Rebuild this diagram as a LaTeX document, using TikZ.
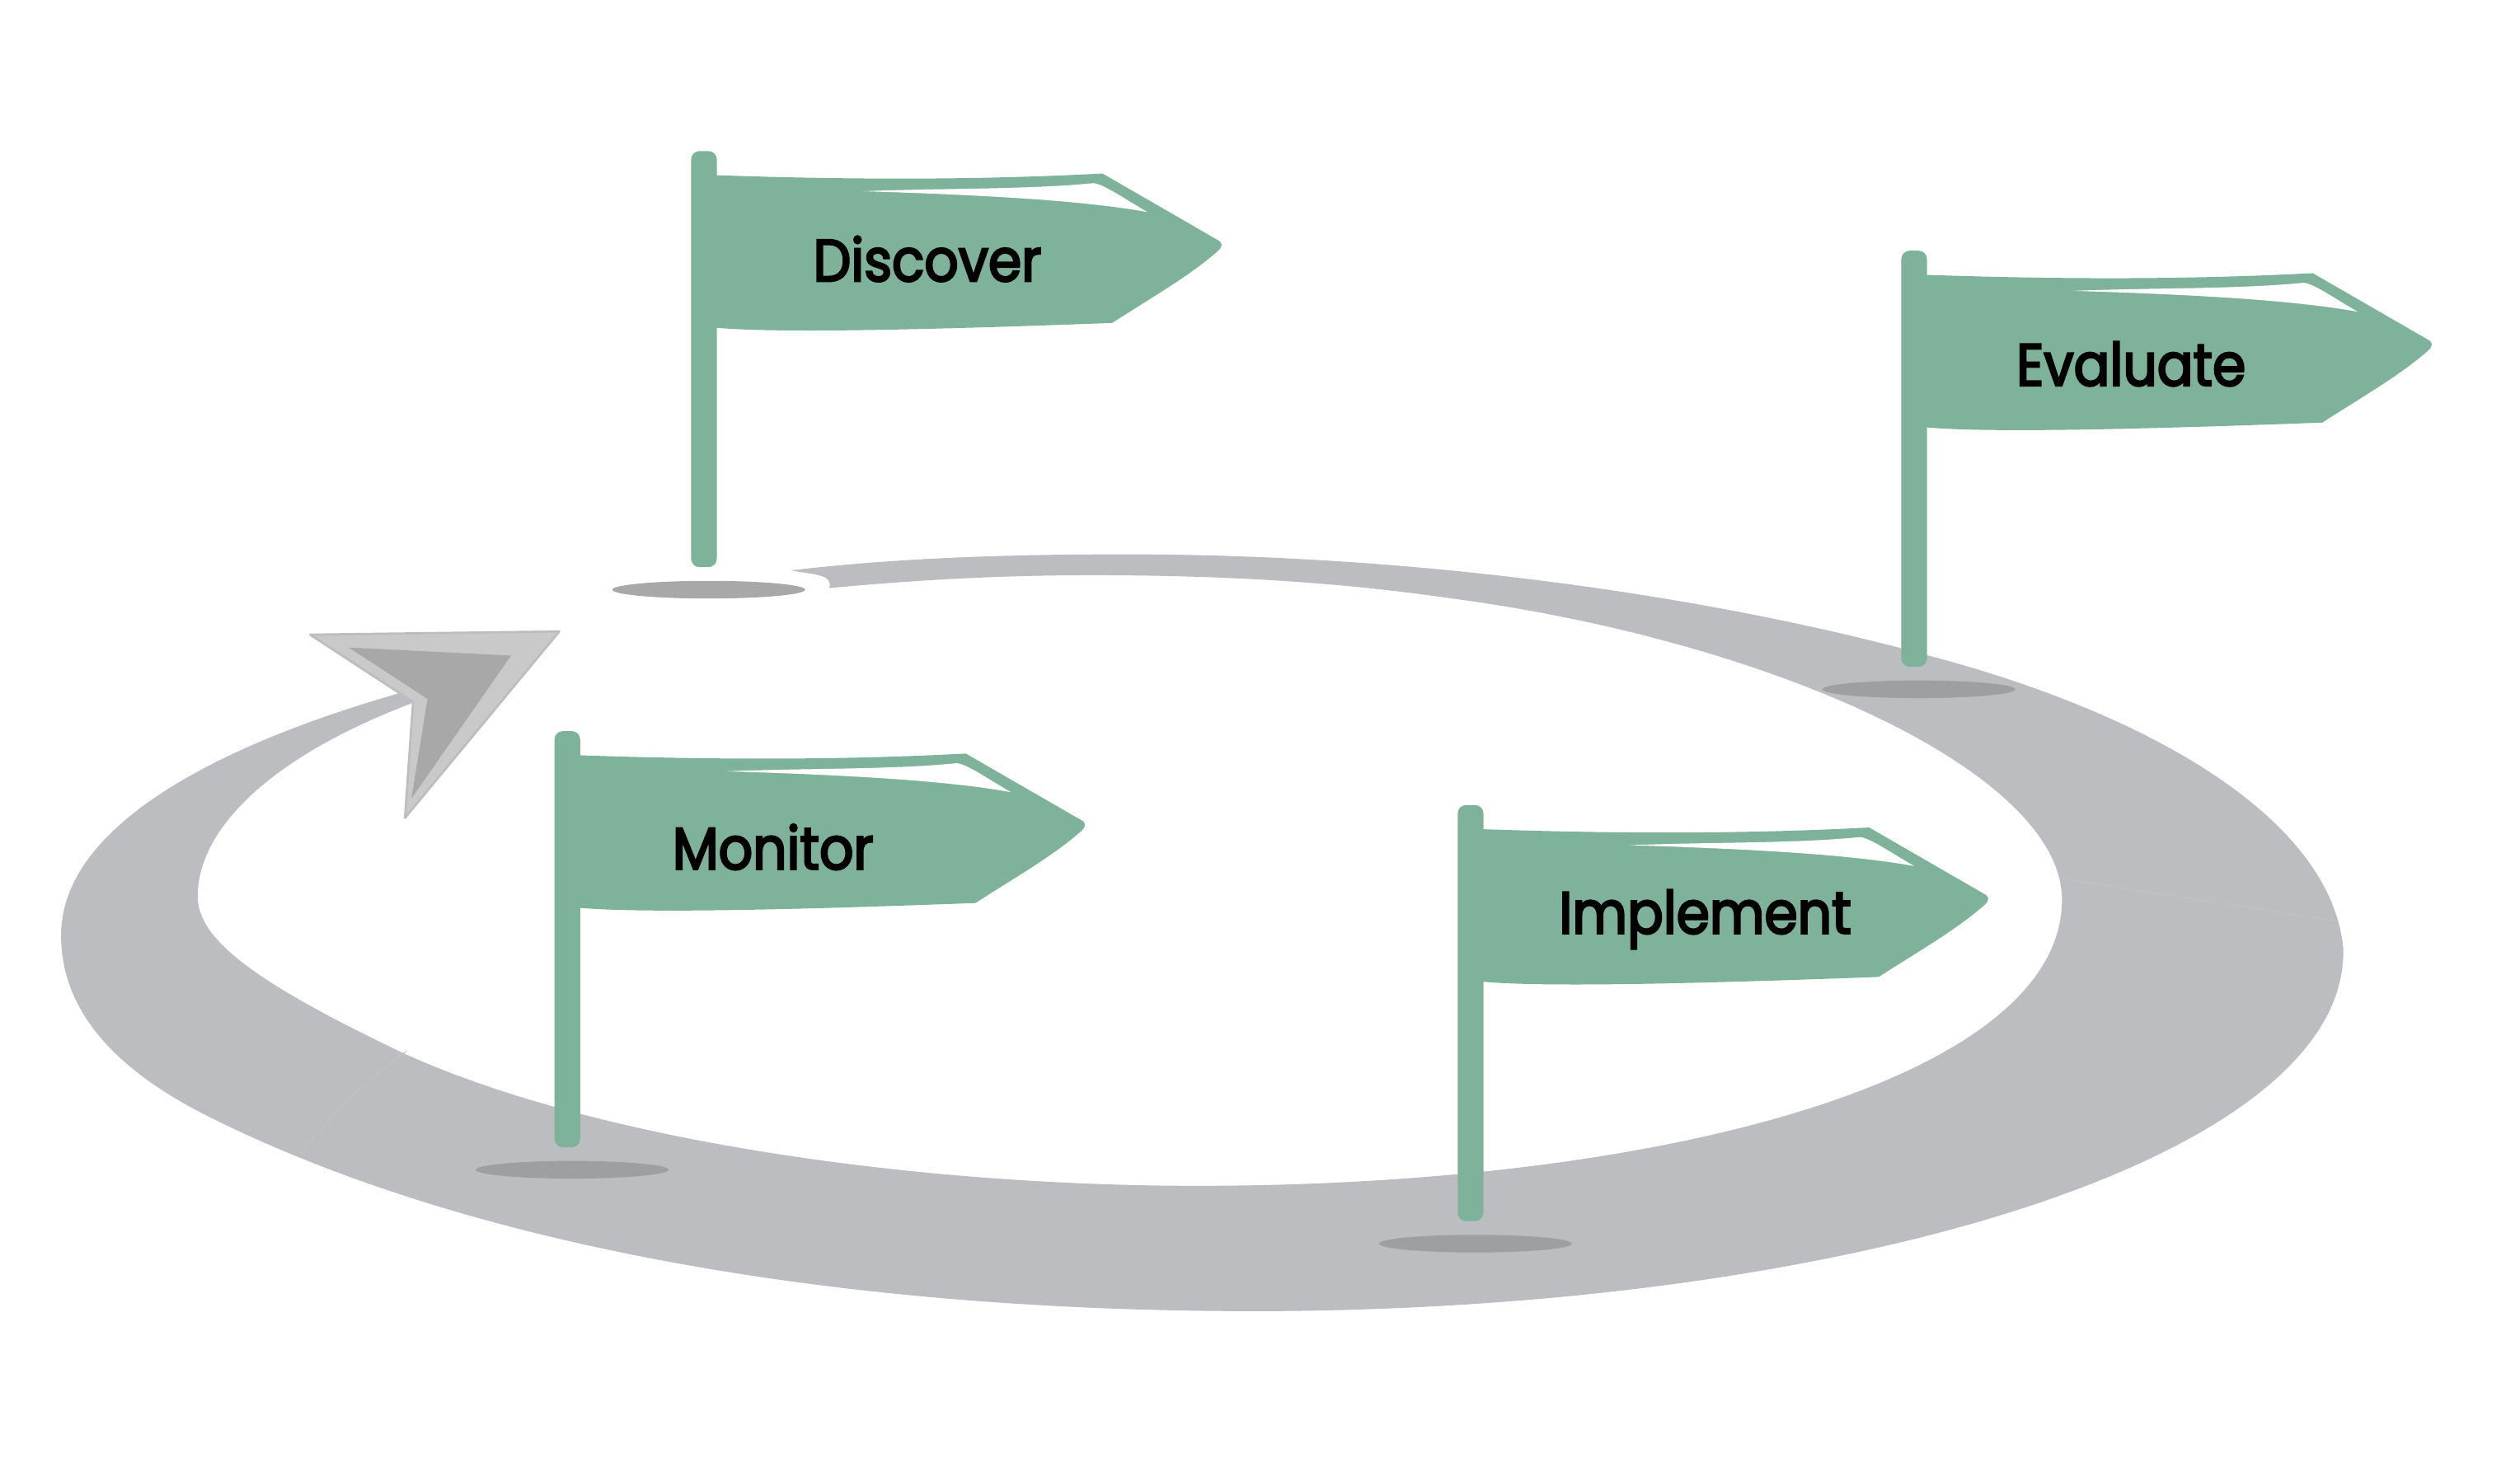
\documentclass[tikz,border=0pt]{standalone}
\usepackage{fontspec}
\setmainfont{Poppins}
\usepackage{tikz}
\definecolor{flaggreen}{HTML}{7FB29B}
\definecolor{roadgrey}{HTML}{BCBDC0}
\definecolor{seamgrey}{HTML}{C2C3C6}
\definecolor{arrowlight}{HTML}{C9C9C9}
\definecolor{arrowdark}{HTML}{A8A8A8}
\definecolor{shadowoff}{HTML}{A8A8A8}
\definecolor{shadowon}{HTML}{9E9FA0}
\newfontfamily\flagfont[FakeStretch=0.9,FakeBold=3.4]{Poppins}
\tikzset{
	flagfill/.style={fill=flaggreen,draw=none},
	flaglabel/.style={text=black,inner sep=0pt,anchor=base,font=\flagfont\fontsize{21}{25}\selectfont},
}
\newcommand{\flagmark}[3]{%
	\fill [#3] ({#1+11},{#2+273}) ellipse (60 and 5.5);
	\begin{scope}[shift={(#1,#2)}]
		\fill [flagfill,rounded corners=3] (0,0) rectangle (16,259);
		\fill [flagfill] (14,15) .. controls (100,18) and (180,18) .. (256,14)
			-- (327,55) .. controls (331,57) and (331,59) .. (328,62)
			.. controls (310,78) and (285,92) .. (262,107)
			.. controls (180,110) and (60,114) .. (16,110) -- (14,110) -- cycle;
		\fill [white] (107,25) .. controls (160,23) and (210,24) .. (250,20)
			.. controls (256,20) and (270,30) .. (284,38)
			.. controls (240,30) and (170,27) .. (107,25) -- cycle;
	\end{scope}
}
\begin{document}
\begin{tikzpicture}[x=0.02cm,y=-0.02cm]
	\useasboundingbox (0,0) rectangle (1568,921.7);
	\fill [roadgrey] (492,355) .. controls (560,347) and (630,345) .. (700,345)
		.. controls (900,345) and (1080,375) .. (1200,408)
		.. controls (1340,445) and (1450,510) .. (1458,590)
		.. controls (1462,720) and (1150,816) .. (780,816)
		.. controls (520,816) and (290,775) .. (130,695)
		.. controls (70,665) and (38,628) .. (38,582)
		.. controls (38,520) and (120,468) .. (250,431)
		-- (258,437)
		.. controls (170,470) and (123,515) .. (123,558)
		.. controls (123,585) and (160,612) .. (250,655)
		.. controls (370,710) and (570,738) .. (745,738)
		.. controls (1040,738) and (1283,670) .. (1283,560)
		.. controls (1283,480) and (1100,398) .. (900,372)
		.. controls (830,362) and (760,358) .. (680,358)
		.. controls (620,358) and (570,361) .. (516,366)
		.. controls (518,358) and (510,358) .. (492,355) -- cycle;
	\draw [seamgrey,line width=0.3pt] (1284,547) -- (1452,573);
	\draw [seamgrey,line width=0.3pt] (253,654) .. controls (225,675) and (205,695) .. (187,718);
	\fill [arrowlight,draw=roadgrey,line width=0.8pt,line join=round] (193,395) -- (348,393) -- (252,509) -- (257,437) -- (248,431) -- cycle;
	\fill [arrowdark] (217,403) -- (318,408) -- (256,497) -- (266,435) -- cycle;
	\flagmark{430}{94}{shadowoff}
	\flagmark{1183}{156}{shadowon}
	\flagmark{345}{455}{shadowon}
	\flagmark{907}{501}{shadowon}
	\node [flaglabel] (discover) at (577,175) {Discover};
	\node [flaglabel] (evaluate) at (1326,240) {Evaluate};
	\node [flaglabel] (monitor) at (481,541) {Monitor};
	\node [flaglabel] (implement) at (1061,581) {Implement};
\end{tikzpicture}
\end{document}
